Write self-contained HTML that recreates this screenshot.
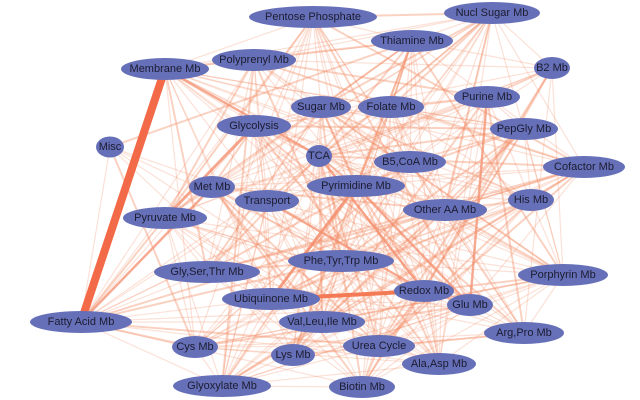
<!DOCTYPE html>
<html><head><meta charset="utf-8">
<style>
html,body{margin:0;padding:0;background:#fff;}
svg{display:block;}
text{font-family:"Liberation Sans",sans-serif;font-size:11px;fill:#1c1c30;text-anchor:middle;dominant-baseline:central;}
</style></head><body>
<svg id="s" width="640" height="400" viewBox="0 0 640 400">
<g id="edges"></g>
<g id="strong" stroke="#f26a48" stroke-linecap="round">
<line x1="165" y1="69" x2="81" y2="322" stroke-width="8"/>
<line x1="271" y1="299" x2="424" y2="291" stroke-width="4" stroke="#f47a55"/>
<line x1="254" y1="126" x2="165" y2="218" stroke-width="3" stroke="#f59070" opacity="0.8"/>
<line x1="356" y1="186" x2="271" y2="299" stroke-width="3" stroke="#f59070" opacity="0.8"/>
<line x1="319" y1="156" x2="424" y2="291" stroke-width="2.5" stroke="#f59070" opacity="0.7"/>
<line x1="487" y1="97" x2="470" y2="305" stroke-width="2.5" stroke="#f59070" opacity="0.7"/>
<line x1="212" y1="187" x2="81" y2="322" stroke-width="2.5" stroke="#f59070" opacity="0.7"/>
<line x1="165" y1="69" x2="319" y2="156" stroke-width="2.5" stroke="#f59070" opacity="0.7"/>
<line x1="356" y1="186" x2="470" y2="305" stroke-width="2.5" stroke="#f59070" opacity="0.7"/>
<line x1="267" y1="201" x2="424" y2="291" stroke-width="2.5" stroke="#f59070" opacity="0.7"/>
</g>
<g id="nodes" fill="#6670b8"></g>
</svg>
<script>
var N=[
["Pentose Phosphate",313,17,128],["Nucl Sugar Mb",492,13,96],["Thiamine Mb",412,41,82],
["Polyprenyl Mb",254,60,84],["Membrane Mb",165,69,88],["B2 Mb",552,68,36],
["Purine Mb",487,97,66],["Sugar Mb",321,107,60],["Folate Mb",391,107,66],
["PepGly Mb",524,129,68],["Glycolysis",254,126,74],["Misc",110,147,28],
["TCA",319,156,26],["B5,CoA Mb",410,162,72],["Cofactor Mb",584,167,82],
["Met Mb",212,187,46],["Pyrimidine Mb",356,186,98],["Transport",267,201,64],
["His Mb",531,200,46],["Other AA Mb",445,210,84],["Pyruvate Mb",165,218,84],
["Phe,Tyr,Trp Mb",341,261,106],["Gly,Ser,Thr Mb",207,272,106],["Porphyrin Mb",563,275,90],
["Redox Mb",424,291,60],["Ubiquinone Mb",271,299,98],["Glu Mb",470,305,46],
["Fatty Acid Mb",81,322,102],["Val,Leu,Ile Mb",322,322,86],["Arg,Pro Mb",524,333,80],
["Cys Mb",195,347,46],["Urea Cycle",379,346,72],["Lys Mb",293,355,44],
["Ala,Asp Mb",439,364,74],["Glyoxylate Mb",222,386,98],["Biotin Mb",362,387,66]];
var ns="http://www.w3.org/2000/svg";
var seed=7;function r(){seed=(seed*16807)%2147483647;return seed/2147483647;}
var E=document.getElementById("edges");
for(var i=0;i<N.length;i++)for(var j=i+1;j<N.length;j++){
 var p=(N[i][0]=="Misc"||N[j][0]=="Misc")?0.15:0.6;
 if(r()<p){var l=document.createElementNS(ns,"line");
 l.setAttribute("x1",N[i][1]);l.setAttribute("y1",N[i][2]);l.setAttribute("x2",N[j][1]);l.setAttribute("y2",N[j][2]);
 var w=r();l.setAttribute("stroke","#f38a62");l.setAttribute("stroke-width",w<0.75?1.2:2);
 l.setAttribute("opacity",w<0.75?0.25:0.38);E.appendChild(l);}}
var G=document.getElementById("nodes");
for(var k=0;k<N.length;k++){var e=document.createElementNS(ns,"ellipse");
 e.setAttribute("cx",N[k][1]);e.setAttribute("cy",N[k][2]);e.setAttribute("rx",N[k][3]/2);e.setAttribute("ry",N[k][0]=="Misc"?10.5:11);G.appendChild(e);}
</script>
<svg width="640" height="400" viewBox="0 0 640 400" style="position:absolute;left:0;top:0">
<text x="313" y="17">Pentose Phosphate</text><text x="492" y="13">Nucl Sugar Mb</text><text x="412" y="41">Thiamine Mb</text>
<text x="254" y="60">Polyprenyl Mb</text><text x="165" y="69">Membrane Mb</text><text x="552" y="68">B2 Mb</text>
<text x="487" y="97">Purine Mb</text><text x="321" y="107">Sugar Mb</text><text x="391" y="107">Folate Mb</text>
<text x="524" y="129">PepGly Mb</text><text x="254" y="126">Glycolysis</text><text x="110" y="147">Misc</text>
<text x="319" y="156">TCA</text><text x="410" y="162">B5,CoA Mb</text><text x="584" y="167">Cofactor Mb</text>
<text x="212" y="187">Met Mb</text><text x="356" y="186">Pyrimidine Mb</text><text x="267" y="201">Transport</text>
<text x="531" y="200">His Mb</text><text x="445" y="210">Other AA Mb</text><text x="165" y="218">Pyruvate Mb</text>
<text x="341" y="261">Phe,Tyr,Trp Mb</text><text x="207" y="272">Gly,Ser,Thr Mb</text><text x="563" y="275">Porphyrin Mb</text>
<text x="424" y="291">Redox Mb</text><text x="271" y="299">Ubiquinone Mb</text><text x="470" y="305">Glu Mb</text>
<text x="81" y="322">Fatty Acid Mb</text><text x="322" y="322">Val,Leu,Ile Mb</text><text x="524" y="333">Arg,Pro Mb</text>
<text x="195" y="347">Cys Mb</text><text x="379" y="346">Urea Cycle</text><text x="293" y="355">Lys Mb</text>
<text x="439" y="364">Ala,Asp Mb</text><text x="222" y="386">Glyoxylate Mb</text><text x="362" y="387">Biotin Mb</text>
</svg>
</body></html>
